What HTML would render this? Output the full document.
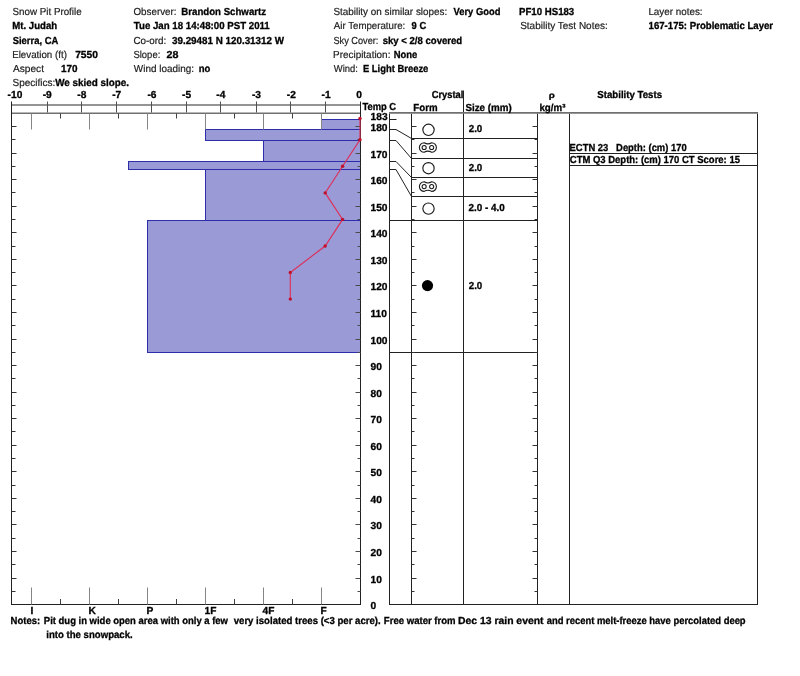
<!DOCTYPE html>
<html><head><meta charset="utf-8"><style>
html,body{margin:0;padding:0;background:#fff;width:800px;height:676px;overflow:hidden}
svg{display:block;will-change:transform}
text{font-family:"Liberation Sans",sans-serif;font-size:10.2px;text-rendering:geometricPrecision}
.b{font-weight:bold;fill:#000;stroke:#000;stroke-width:0.3px}
.r{font-weight:normal;stroke:#222;stroke-width:0.2px}
</style></head><body>
<svg width="800" height="676" viewBox="0 0 800 676" shape-rendering="auto">
<rect width="800" height="676" fill="#fff"/>
<text class="r" x="12.56" y="14.6" textLength="69.08" lengthAdjust="spacingAndGlyphs" fill="#222" xml:space="preserve">Snow Pit Profile</text>
<text class="b" x="12.36" y="29" textLength="44.74" lengthAdjust="spacingAndGlyphs" xml:space="preserve">Mt. Judah</text>
<text class="b" x="12.73" y="43.5" textLength="45.52" lengthAdjust="spacingAndGlyphs" xml:space="preserve">Sierra, CA</text>
<text class="r" x="12.20" y="57.9" textLength="54.70" lengthAdjust="spacingAndGlyphs" fill="#222" xml:space="preserve">Elevation (ft)</text>
<text class="b" x="75.16" y="57.9" textLength="22.76" lengthAdjust="spacingAndGlyphs" xml:space="preserve">7550</text>
<text class="r" x="12.98" y="72.2" textLength="30.99" lengthAdjust="spacingAndGlyphs" fill="#222" xml:space="preserve">Aspect</text>
<text class="b" x="61.08" y="72.2" textLength="16.53" lengthAdjust="spacingAndGlyphs" xml:space="preserve">170</text>
<text class="r" x="12.55" y="86.3" textLength="42.77" lengthAdjust="spacingAndGlyphs" fill="#222" xml:space="preserve">Specifics:</text>
<text class="b" x="55.19" y="86.3" textLength="73.89" lengthAdjust="spacingAndGlyphs" xml:space="preserve">We skied slope.</text>
<text class="r" x="133.44" y="14.6" textLength="43.06" lengthAdjust="spacingAndGlyphs" fill="#222" xml:space="preserve">Observer:</text>
<text class="b" x="181.35" y="14.6" textLength="84.69" lengthAdjust="spacingAndGlyphs" xml:space="preserve">Brandon Schwartz</text>
<text class="b" x="133.79" y="29" textLength="135.97" lengthAdjust="spacingAndGlyphs" xml:space="preserve">Tue Jan 18 14:48:00 PST 2011</text>
<text class="r" x="133.40" y="43.5" textLength="32.90" lengthAdjust="spacingAndGlyphs" fill="#222" xml:space="preserve">Co-ord:</text>
<text class="b" x="171.97" y="43.5" textLength="112.04" lengthAdjust="spacingAndGlyphs" xml:space="preserve">39.29481 N 120.31312 W</text>
<text class="r" x="133.47" y="57.9" textLength="26.79" lengthAdjust="spacingAndGlyphs" fill="#222" xml:space="preserve">Slope:</text>
<text class="b" x="166.53" y="57.9" textLength="11.90" lengthAdjust="spacingAndGlyphs" xml:space="preserve">28</text>
<text class="r" x="133.86" y="72.2" textLength="60.05" lengthAdjust="spacingAndGlyphs" fill="#222" xml:space="preserve">Wind loading:</text>
<text class="b" x="198.77" y="72.2" textLength="11.60" lengthAdjust="spacingAndGlyphs" xml:space="preserve">no</text>
<text class="r" x="333.40" y="14.6" textLength="113.90" lengthAdjust="spacingAndGlyphs" fill="#222" xml:space="preserve">Stability on similar slopes:</text>
<text class="b" x="453.54" y="14.6" textLength="46.82" lengthAdjust="spacingAndGlyphs" xml:space="preserve">Very Good</text>
<text class="r" x="333.83" y="29" textLength="71.44" lengthAdjust="spacingAndGlyphs" fill="#222" xml:space="preserve">Air Temperature:</text>
<text class="b" x="411.58" y="29" textLength="14.58" lengthAdjust="spacingAndGlyphs" xml:space="preserve">9 C</text>
<text class="r" x="333.43" y="43.5" textLength="45.01" lengthAdjust="spacingAndGlyphs" fill="#222" xml:space="preserve">Sky Cover:</text>
<text class="b" x="382.66" y="43.5" textLength="79.57" lengthAdjust="spacingAndGlyphs" xml:space="preserve">sky &lt; 2/8 covered</text>
<text class="r" x="333.04" y="57.9" textLength="57.37" lengthAdjust="spacingAndGlyphs" fill="#222" xml:space="preserve">Precipitation:</text>
<text class="b" x="393.77" y="57.9" textLength="23.55" lengthAdjust="spacingAndGlyphs" xml:space="preserve">None</text>
<text class="r" x="333.81" y="72.2" textLength="24.15" lengthAdjust="spacingAndGlyphs" fill="#222" xml:space="preserve">Wind:</text>
<text class="b" x="362.97" y="72.2" textLength="65.35" lengthAdjust="spacingAndGlyphs" xml:space="preserve">E Light Breeze</text>
<text class="b" x="519.06" y="14.6" textLength="55.19" lengthAdjust="spacingAndGlyphs" xml:space="preserve">PF10 HS183</text>
<text class="r" x="520.15" y="29" textLength="87.65" lengthAdjust="spacingAndGlyphs" fill="#222" xml:space="preserve">Stability Test Notes:</text>
<text class="r" x="648.39" y="14.6" textLength="54.21" lengthAdjust="spacingAndGlyphs" fill="#222" xml:space="preserve">Layer notes:</text>
<text class="b" x="648.59" y="29" textLength="124.55" lengthAdjust="spacingAndGlyphs" xml:space="preserve">167-175: Problematic Layer</text>
<text class="b" x="7.64" y="98" textLength="14.74" lengthAdjust="spacingAndGlyphs" xml:space="preserve">-10</text>
<text class="b" x="42.66" y="98" textLength="9.07" lengthAdjust="spacingAndGlyphs" xml:space="preserve">-9</text>
<text class="b" x="77.32" y="98" textLength="9.07" lengthAdjust="spacingAndGlyphs" xml:space="preserve">-8</text>
<text class="b" x="112.19" y="98" textLength="9.07" lengthAdjust="spacingAndGlyphs" xml:space="preserve">-7</text>
<text class="b" x="147.45" y="98" textLength="9.07" lengthAdjust="spacingAndGlyphs" xml:space="preserve">-6</text>
<text class="b" x="182.11" y="98" textLength="9.07" lengthAdjust="spacingAndGlyphs" xml:space="preserve">-5</text>
<text class="b" x="216.29" y="98" textLength="9.07" lengthAdjust="spacingAndGlyphs" xml:space="preserve">-4</text>
<text class="b" x="251.95" y="98" textLength="9.07" lengthAdjust="spacingAndGlyphs" xml:space="preserve">-3</text>
<text class="b" x="286.87" y="98" textLength="9.07" lengthAdjust="spacingAndGlyphs" xml:space="preserve">-2</text>
<text class="b" x="321.51" y="98" textLength="9.07" lengthAdjust="spacingAndGlyphs" xml:space="preserve">-1</text>
<text class="b" x="356.27" y="98" textLength="5.67" lengthAdjust="spacingAndGlyphs" xml:space="preserve">0</text>
<line x1="11.5" y1="105" x2="360.5" y2="105" stroke="#707070" stroke-width="1.6"/>
<line x1="11.5" y1="113.2" x2="360.5" y2="113.2" stroke="#707070" stroke-width="1.6"/>
<line x1="47.5" y1="101.5" x2="47.5" y2="112.5" stroke="#505050" stroke-width="1"/>
<line x1="81.5" y1="101.5" x2="81.5" y2="112.5" stroke="#505050" stroke-width="1"/>
<line x1="116.5" y1="101.5" x2="116.5" y2="112.5" stroke="#505050" stroke-width="1"/>
<line x1="151.5" y1="101.5" x2="151.5" y2="112.5" stroke="#505050" stroke-width="1"/>
<line x1="186.5" y1="101.5" x2="186.5" y2="112.5" stroke="#505050" stroke-width="1"/>
<line x1="220.5" y1="101.5" x2="220.5" y2="112.5" stroke="#505050" stroke-width="1"/>
<line x1="256.5" y1="101.5" x2="256.5" y2="112.5" stroke="#505050" stroke-width="1"/>
<line x1="290.5" y1="101.5" x2="290.5" y2="112.5" stroke="#505050" stroke-width="1"/>
<line x1="325.5" y1="101.5" x2="325.5" y2="112.5" stroke="#505050" stroke-width="1"/>
<rect x="321.5" y="119.5" width="39.0" height="10.0" fill="#9a9ad6" stroke="#2e2eaa" stroke-width="1"/>
<rect x="205.5" y="129.5" width="155.0" height="11.0" fill="#9a9ad6" stroke="#2e2eaa" stroke-width="1"/>
<rect x="263.5" y="140.5" width="97.0" height="21.0" fill="#9a9ad6" stroke="#2e2eaa" stroke-width="1"/>
<rect x="128.5" y="161.5" width="232.0" height="8.0" fill="#9a9ad6" stroke="#2e2eaa" stroke-width="1"/>
<rect x="205.5" y="169.5" width="155.0" height="51.0" fill="#9a9ad6" stroke="#2e2eaa" stroke-width="1"/>
<rect x="147.5" y="220.5" width="213.0" height="132.0" fill="#9a9ad6" stroke="#2e2eaa" stroke-width="1"/>
<line x1="11.5" y1="101.5" x2="11.5" y2="605" stroke="#222" stroke-width="1"/>
<line x1="360.5" y1="101.5" x2="360.5" y2="605" stroke="#222" stroke-width="1"/>
<line x1="11.5" y1="604.5" x2="360.5" y2="604.5" stroke="#222" stroke-width="1"/>
<line x1="31.5" y1="113.5" x2="31.5" y2="129.5" stroke="#858585" stroke-width="1"/>
<line x1="31.5" y1="587.5" x2="31.5" y2="604.5" stroke="#858585" stroke-width="1"/>
<line x1="89.5" y1="113.5" x2="89.5" y2="129.5" stroke="#858585" stroke-width="1"/>
<line x1="89.5" y1="587.5" x2="89.5" y2="604.5" stroke="#858585" stroke-width="1"/>
<line x1="147.5" y1="113.5" x2="147.5" y2="129.5" stroke="#858585" stroke-width="1"/>
<line x1="147.5" y1="587.5" x2="147.5" y2="604.5" stroke="#858585" stroke-width="1"/>
<line x1="205.5" y1="113.5" x2="205.5" y2="129.5" stroke="#858585" stroke-width="1"/>
<line x1="205.5" y1="587.5" x2="205.5" y2="604.5" stroke="#858585" stroke-width="1"/>
<line x1="263.5" y1="113.5" x2="263.5" y2="129.5" stroke="#858585" stroke-width="1"/>
<line x1="263.5" y1="587.5" x2="263.5" y2="604.5" stroke="#858585" stroke-width="1"/>
<line x1="321.5" y1="113.5" x2="321.5" y2="129.5" stroke="#858585" stroke-width="1"/>
<line x1="321.5" y1="587.5" x2="321.5" y2="604.5" stroke="#858585" stroke-width="1"/>
<line x1="60.5" y1="113.5" x2="60.5" y2="118.5" stroke="#404040" stroke-width="1"/>
<line x1="60.5" y1="599" x2="60.5" y2="604.5" stroke="#404040" stroke-width="1"/>
<line x1="118.5" y1="113.5" x2="118.5" y2="118.5" stroke="#404040" stroke-width="1"/>
<line x1="118.5" y1="599" x2="118.5" y2="604.5" stroke="#404040" stroke-width="1"/>
<line x1="176.5" y1="113.5" x2="176.5" y2="118.5" stroke="#404040" stroke-width="1"/>
<line x1="176.5" y1="599" x2="176.5" y2="604.5" stroke="#404040" stroke-width="1"/>
<line x1="234.5" y1="113.5" x2="234.5" y2="118.5" stroke="#404040" stroke-width="1"/>
<line x1="234.5" y1="599" x2="234.5" y2="604.5" stroke="#404040" stroke-width="1"/>
<line x1="292.5" y1="113.5" x2="292.5" y2="118.5" stroke="#404040" stroke-width="1"/>
<line x1="292.5" y1="599" x2="292.5" y2="604.5" stroke="#404040" stroke-width="1"/>
<line x1="11.5" y1="591.5" x2="15.5" y2="591.5" stroke="#333" stroke-width="1"/>
<line x1="357.5" y1="591.5" x2="360.5" y2="591.5" stroke="#4a4a4a" stroke-width="1"/>
<line x1="11.5" y1="578.5" x2="16.5" y2="578.5" stroke="#333" stroke-width="1"/>
<line x1="355.5" y1="578.5" x2="360.5" y2="578.5" stroke="#4a4a4a" stroke-width="1"/>
<line x1="11.5" y1="564.5" x2="15.5" y2="564.5" stroke="#333" stroke-width="1"/>
<line x1="357.5" y1="564.5" x2="360.5" y2="564.5" stroke="#4a4a4a" stroke-width="1"/>
<line x1="11.5" y1="551.5" x2="16.5" y2="551.5" stroke="#333" stroke-width="1"/>
<line x1="355.5" y1="551.5" x2="360.5" y2="551.5" stroke="#4a4a4a" stroke-width="1"/>
<line x1="11.5" y1="538.5" x2="15.5" y2="538.5" stroke="#333" stroke-width="1"/>
<line x1="357.5" y1="538.5" x2="360.5" y2="538.5" stroke="#4a4a4a" stroke-width="1"/>
<line x1="11.5" y1="524.5" x2="16.5" y2="524.5" stroke="#333" stroke-width="1"/>
<line x1="355.5" y1="524.5" x2="360.5" y2="524.5" stroke="#4a4a4a" stroke-width="1"/>
<line x1="11.5" y1="511.5" x2="15.5" y2="511.5" stroke="#333" stroke-width="1"/>
<line x1="357.5" y1="511.5" x2="360.5" y2="511.5" stroke="#4a4a4a" stroke-width="1"/>
<line x1="11.5" y1="498.5" x2="16.5" y2="498.5" stroke="#333" stroke-width="1"/>
<line x1="355.5" y1="498.5" x2="360.5" y2="498.5" stroke="#4a4a4a" stroke-width="1"/>
<line x1="11.5" y1="485.5" x2="15.5" y2="485.5" stroke="#333" stroke-width="1"/>
<line x1="357.5" y1="485.5" x2="360.5" y2="485.5" stroke="#4a4a4a" stroke-width="1"/>
<line x1="11.5" y1="471.5" x2="16.5" y2="471.5" stroke="#333" stroke-width="1"/>
<line x1="355.5" y1="471.5" x2="360.5" y2="471.5" stroke="#4a4a4a" stroke-width="1"/>
<line x1="11.5" y1="458.5" x2="15.5" y2="458.5" stroke="#333" stroke-width="1"/>
<line x1="357.5" y1="458.5" x2="360.5" y2="458.5" stroke="#4a4a4a" stroke-width="1"/>
<line x1="11.5" y1="445.5" x2="16.5" y2="445.5" stroke="#333" stroke-width="1"/>
<line x1="355.5" y1="445.5" x2="360.5" y2="445.5" stroke="#4a4a4a" stroke-width="1"/>
<line x1="11.5" y1="431.5" x2="15.5" y2="431.5" stroke="#333" stroke-width="1"/>
<line x1="357.5" y1="431.5" x2="360.5" y2="431.5" stroke="#4a4a4a" stroke-width="1"/>
<line x1="11.5" y1="418.5" x2="16.5" y2="418.5" stroke="#333" stroke-width="1"/>
<line x1="355.5" y1="418.5" x2="360.5" y2="418.5" stroke="#4a4a4a" stroke-width="1"/>
<line x1="11.5" y1="405.5" x2="15.5" y2="405.5" stroke="#333" stroke-width="1"/>
<line x1="357.5" y1="405.5" x2="360.5" y2="405.5" stroke="#4a4a4a" stroke-width="1"/>
<line x1="11.5" y1="392.5" x2="16.5" y2="392.5" stroke="#333" stroke-width="1"/>
<line x1="355.5" y1="392.5" x2="360.5" y2="392.5" stroke="#4a4a4a" stroke-width="1"/>
<line x1="11.5" y1="378.5" x2="15.5" y2="378.5" stroke="#333" stroke-width="1"/>
<line x1="357.5" y1="378.5" x2="360.5" y2="378.5" stroke="#4a4a4a" stroke-width="1"/>
<line x1="11.5" y1="365.5" x2="16.5" y2="365.5" stroke="#333" stroke-width="1"/>
<line x1="355.5" y1="365.5" x2="360.5" y2="365.5" stroke="#4a4a4a" stroke-width="1"/>
<line x1="11.5" y1="352.5" x2="15.5" y2="352.5" stroke="#333" stroke-width="1"/>
<line x1="357.5" y1="352.5" x2="360.5" y2="352.5" stroke="#4a4a4a" stroke-width="1"/>
<line x1="11.5" y1="339.5" x2="16.5" y2="339.5" stroke="#333" stroke-width="1"/>
<line x1="355.5" y1="339.5" x2="360.5" y2="339.5" stroke="#4a4a4a" stroke-width="1"/>
<line x1="11.5" y1="325.5" x2="15.5" y2="325.5" stroke="#333" stroke-width="1"/>
<line x1="357.5" y1="325.5" x2="360.5" y2="325.5" stroke="#4a4a4a" stroke-width="1"/>
<line x1="11.5" y1="312.5" x2="16.5" y2="312.5" stroke="#333" stroke-width="1"/>
<line x1="355.5" y1="312.5" x2="360.5" y2="312.5" stroke="#4a4a4a" stroke-width="1"/>
<line x1="11.5" y1="299.5" x2="15.5" y2="299.5" stroke="#333" stroke-width="1"/>
<line x1="357.5" y1="299.5" x2="360.5" y2="299.5" stroke="#4a4a4a" stroke-width="1"/>
<line x1="11.5" y1="285.5" x2="16.5" y2="285.5" stroke="#333" stroke-width="1"/>
<line x1="355.5" y1="285.5" x2="360.5" y2="285.5" stroke="#4a4a4a" stroke-width="1"/>
<line x1="11.5" y1="272.5" x2="15.5" y2="272.5" stroke="#333" stroke-width="1"/>
<line x1="357.5" y1="272.5" x2="360.5" y2="272.5" stroke="#4a4a4a" stroke-width="1"/>
<line x1="11.5" y1="259.5" x2="16.5" y2="259.5" stroke="#333" stroke-width="1"/>
<line x1="355.5" y1="259.5" x2="360.5" y2="259.5" stroke="#4a4a4a" stroke-width="1"/>
<line x1="11.5" y1="246.5" x2="15.5" y2="246.5" stroke="#333" stroke-width="1"/>
<line x1="357.5" y1="246.5" x2="360.5" y2="246.5" stroke="#4a4a4a" stroke-width="1"/>
<line x1="11.5" y1="232.5" x2="16.5" y2="232.5" stroke="#333" stroke-width="1"/>
<line x1="355.5" y1="232.5" x2="360.5" y2="232.5" stroke="#4a4a4a" stroke-width="1"/>
<line x1="11.5" y1="219.5" x2="15.5" y2="219.5" stroke="#333" stroke-width="1"/>
<line x1="357.5" y1="219.5" x2="360.5" y2="219.5" stroke="#4a4a4a" stroke-width="1"/>
<line x1="11.5" y1="206.5" x2="16.5" y2="206.5" stroke="#333" stroke-width="1"/>
<line x1="355.5" y1="206.5" x2="360.5" y2="206.5" stroke="#4a4a4a" stroke-width="1"/>
<line x1="11.5" y1="192.5" x2="15.5" y2="192.5" stroke="#333" stroke-width="1"/>
<line x1="357.5" y1="192.5" x2="360.5" y2="192.5" stroke="#4a4a4a" stroke-width="1"/>
<line x1="11.5" y1="179.5" x2="16.5" y2="179.5" stroke="#333" stroke-width="1"/>
<line x1="355.5" y1="179.5" x2="360.5" y2="179.5" stroke="#4a4a4a" stroke-width="1"/>
<line x1="11.5" y1="166.5" x2="15.5" y2="166.5" stroke="#333" stroke-width="1"/>
<line x1="357.5" y1="166.5" x2="360.5" y2="166.5" stroke="#4a4a4a" stroke-width="1"/>
<line x1="11.5" y1="153.5" x2="16.5" y2="153.5" stroke="#333" stroke-width="1"/>
<line x1="355.5" y1="153.5" x2="360.5" y2="153.5" stroke="#4a4a4a" stroke-width="1"/>
<line x1="11.5" y1="139.5" x2="15.5" y2="139.5" stroke="#333" stroke-width="1"/>
<line x1="357.5" y1="139.5" x2="360.5" y2="139.5" stroke="#4a4a4a" stroke-width="1"/>
<line x1="11.5" y1="126.5" x2="16.5" y2="126.5" stroke="#333" stroke-width="1"/>
<line x1="355.5" y1="126.5" x2="360.5" y2="126.5" stroke="#4a4a4a" stroke-width="1"/>
<polyline points="360.0,118.5 360.0,139.8 342.6,166.3 325.2,192.9 342.6,219.4 325.2,246.0 290.3,272.5 290.3,299.1" fill="none" stroke="#dc3058" stroke-width="1.15"/>
<circle cx="360.0" cy="118.5" r="1.7" fill="#c0102c"/>
<circle cx="360.0" cy="139.8" r="1.7" fill="#c0102c"/>
<circle cx="342.6" cy="166.3" r="1.7" fill="#c0102c"/>
<circle cx="325.2" cy="192.9" r="1.7" fill="#c0102c"/>
<circle cx="342.6" cy="219.4" r="1.7" fill="#c0102c"/>
<circle cx="325.2" cy="246.0" r="1.7" fill="#c0102c"/>
<circle cx="290.3" cy="272.5" r="1.7" fill="#c0102c"/>
<circle cx="290.3" cy="299.1" r="1.7" fill="#c0102c"/>
<text class="b" x="370.6" y="120.3">183</text>
<text class="b" x="370.5" y="130.8">180</text>
<text class="b" x="370.5" y="157.8">170</text>
<text class="b" x="370.5" y="183.8">160</text>
<text class="b" x="370.5" y="210.8">150</text>
<text class="b" x="370.5" y="236.8">140</text>
<text class="b" x="370.5" y="263.8">130</text>
<text class="b" x="370.5" y="289.8">120</text>
<text class="b" x="370.5" y="316.8">110</text>
<text class="b" x="370.5" y="343.8">100</text>
<text class="b" x="370.5" y="369.8">90</text>
<text class="b" x="370.5" y="396.8">80</text>
<text class="b" x="370.5" y="422.8">70</text>
<text class="b" x="370.5" y="449.8">60</text>
<text class="b" x="370.5" y="475.8">50</text>
<text class="b" x="370.5" y="502.8">40</text>
<text class="b" x="370.5" y="528.8">30</text>
<text class="b" x="370.5" y="555.8">20</text>
<text class="b" x="370.5" y="582.8">10</text>
<text class="b" x="370.5" y="608.8">0</text>
<text class="b" x="362.40" y="109.8" textLength="33.76" lengthAdjust="spacingAndGlyphs" xml:space="preserve">Temp C</text>
<line x1="389.5" y1="113.5" x2="389.5" y2="605.0" stroke="#222" stroke-width="1"/>
<line x1="411.5" y1="113.5" x2="411.5" y2="605.0" stroke="#222" stroke-width="1"/>
<line x1="463.5" y1="113.5" x2="463.5" y2="605.0" stroke="#222" stroke-width="1"/>
<line x1="537.5" y1="113.5" x2="537.5" y2="605.0" stroke="#222" stroke-width="1"/>
<line x1="569.5" y1="113.5" x2="569.5" y2="605.0" stroke="#222" stroke-width="1"/>
<line x1="757.5" y1="113.5" x2="757.5" y2="605.0" stroke="#222" stroke-width="1"/>
<line x1="463.5" y1="90.5" x2="463.5" y2="113.5" stroke="#222" stroke-width="1"/>
<line x1="389" y1="112.9" x2="758" y2="112.9" stroke="#707070" stroke-width="1.6"/>
<line x1="389" y1="604.5" x2="758" y2="604.5" stroke="#222" stroke-width="1"/>
<text class="b" x="431.72" y="98.1" textLength="31.70" lengthAdjust="spacingAndGlyphs" xml:space="preserve">Crystal</text>
<text class="b" x="413.35" y="110.6" textLength="24.25" lengthAdjust="spacingAndGlyphs" xml:space="preserve">Form</text>
<text class="b" x="465.42" y="110.6" textLength="46.27" lengthAdjust="spacingAndGlyphs" xml:space="preserve">Size (mm)</text>
<text class="b" x="548.82" y="97.6" textLength="6.06" lengthAdjust="spacingAndGlyphs" style="font-size:8.5px" xml:space="preserve">ρ</text>
<text class="b" x="539.42" y="110.5" textLength="25.99" lengthAdjust="spacingAndGlyphs" xml:space="preserve">kg/m³</text>
<text class="b" x="597.33" y="98.1" textLength="64.67" lengthAdjust="spacingAndGlyphs" xml:space="preserve">Stability Tests</text>
<line x1="411.5" y1="138.5" x2="537.5" y2="138.5" stroke="#222" stroke-width="1"/>
<line x1="411.5" y1="158.5" x2="537.5" y2="158.5" stroke="#222" stroke-width="1"/>
<line x1="411.5" y1="177.5" x2="537.5" y2="177.5" stroke="#222" stroke-width="1"/>
<line x1="411.5" y1="196.5" x2="537.5" y2="196.5" stroke="#222" stroke-width="1"/>
<line x1="389.5" y1="220.5" x2="537.5" y2="220.5" stroke="#222" stroke-width="1"/>
<line x1="389.5" y1="352.5" x2="537.5" y2="352.5" stroke="#222" stroke-width="1"/>
<polyline points="389.5,129.5 396,129.5 411.5,138.5" fill="none" stroke="#222" stroke-width="1"/>
<polyline points="389.5,140.5 396,140.5 411.5,158.5" fill="none" stroke="#222" stroke-width="1"/>
<polyline points="389.5,161.5 396,161.5 411.5,177.5" fill="none" stroke="#222" stroke-width="1"/>
<polyline points="389.5,169.5 396,169.5 411.5,196.5" fill="none" stroke="#222" stroke-width="1"/>
<line x1="389.5" y1="119.5" x2="396.5" y2="119.5" stroke="#222" stroke-width="1"/>
<line x1="411.5" y1="591.5" x2="414.5" y2="591.5" stroke="#333" stroke-width="1"/>
<line x1="534.5" y1="591.5" x2="537.5" y2="591.5" stroke="#333" stroke-width="1"/>
<line x1="411.5" y1="578.5" x2="416.5" y2="578.5" stroke="#333" stroke-width="1"/>
<line x1="532.5" y1="578.5" x2="537.5" y2="578.5" stroke="#333" stroke-width="1"/>
<line x1="411.5" y1="564.5" x2="414.5" y2="564.5" stroke="#333" stroke-width="1"/>
<line x1="534.5" y1="564.5" x2="537.5" y2="564.5" stroke="#333" stroke-width="1"/>
<line x1="411.5" y1="551.5" x2="416.5" y2="551.5" stroke="#333" stroke-width="1"/>
<line x1="532.5" y1="551.5" x2="537.5" y2="551.5" stroke="#333" stroke-width="1"/>
<line x1="411.5" y1="538.5" x2="414.5" y2="538.5" stroke="#333" stroke-width="1"/>
<line x1="534.5" y1="538.5" x2="537.5" y2="538.5" stroke="#333" stroke-width="1"/>
<line x1="411.5" y1="524.5" x2="416.5" y2="524.5" stroke="#333" stroke-width="1"/>
<line x1="532.5" y1="524.5" x2="537.5" y2="524.5" stroke="#333" stroke-width="1"/>
<line x1="411.5" y1="511.5" x2="414.5" y2="511.5" stroke="#333" stroke-width="1"/>
<line x1="534.5" y1="511.5" x2="537.5" y2="511.5" stroke="#333" stroke-width="1"/>
<line x1="411.5" y1="498.5" x2="416.5" y2="498.5" stroke="#333" stroke-width="1"/>
<line x1="532.5" y1="498.5" x2="537.5" y2="498.5" stroke="#333" stroke-width="1"/>
<line x1="411.5" y1="485.5" x2="414.5" y2="485.5" stroke="#333" stroke-width="1"/>
<line x1="534.5" y1="485.5" x2="537.5" y2="485.5" stroke="#333" stroke-width="1"/>
<line x1="411.5" y1="471.5" x2="416.5" y2="471.5" stroke="#333" stroke-width="1"/>
<line x1="532.5" y1="471.5" x2="537.5" y2="471.5" stroke="#333" stroke-width="1"/>
<line x1="411.5" y1="458.5" x2="414.5" y2="458.5" stroke="#333" stroke-width="1"/>
<line x1="534.5" y1="458.5" x2="537.5" y2="458.5" stroke="#333" stroke-width="1"/>
<line x1="411.5" y1="445.5" x2="416.5" y2="445.5" stroke="#333" stroke-width="1"/>
<line x1="532.5" y1="445.5" x2="537.5" y2="445.5" stroke="#333" stroke-width="1"/>
<line x1="411.5" y1="431.5" x2="414.5" y2="431.5" stroke="#333" stroke-width="1"/>
<line x1="534.5" y1="431.5" x2="537.5" y2="431.5" stroke="#333" stroke-width="1"/>
<line x1="411.5" y1="418.5" x2="416.5" y2="418.5" stroke="#333" stroke-width="1"/>
<line x1="532.5" y1="418.5" x2="537.5" y2="418.5" stroke="#333" stroke-width="1"/>
<line x1="411.5" y1="405.5" x2="414.5" y2="405.5" stroke="#333" stroke-width="1"/>
<line x1="534.5" y1="405.5" x2="537.5" y2="405.5" stroke="#333" stroke-width="1"/>
<line x1="411.5" y1="392.5" x2="416.5" y2="392.5" stroke="#333" stroke-width="1"/>
<line x1="532.5" y1="392.5" x2="537.5" y2="392.5" stroke="#333" stroke-width="1"/>
<line x1="411.5" y1="378.5" x2="414.5" y2="378.5" stroke="#333" stroke-width="1"/>
<line x1="534.5" y1="378.5" x2="537.5" y2="378.5" stroke="#333" stroke-width="1"/>
<line x1="411.5" y1="365.5" x2="416.5" y2="365.5" stroke="#333" stroke-width="1"/>
<line x1="532.5" y1="365.5" x2="537.5" y2="365.5" stroke="#333" stroke-width="1"/>
<line x1="411.5" y1="352.5" x2="414.5" y2="352.5" stroke="#333" stroke-width="1"/>
<line x1="534.5" y1="352.5" x2="537.5" y2="352.5" stroke="#333" stroke-width="1"/>
<line x1="411.5" y1="339.5" x2="416.5" y2="339.5" stroke="#333" stroke-width="1"/>
<line x1="532.5" y1="339.5" x2="537.5" y2="339.5" stroke="#333" stroke-width="1"/>
<line x1="411.5" y1="325.5" x2="414.5" y2="325.5" stroke="#333" stroke-width="1"/>
<line x1="534.5" y1="325.5" x2="537.5" y2="325.5" stroke="#333" stroke-width="1"/>
<line x1="411.5" y1="312.5" x2="416.5" y2="312.5" stroke="#333" stroke-width="1"/>
<line x1="532.5" y1="312.5" x2="537.5" y2="312.5" stroke="#333" stroke-width="1"/>
<line x1="411.5" y1="299.5" x2="414.5" y2="299.5" stroke="#333" stroke-width="1"/>
<line x1="534.5" y1="299.5" x2="537.5" y2="299.5" stroke="#333" stroke-width="1"/>
<line x1="411.5" y1="285.5" x2="416.5" y2="285.5" stroke="#333" stroke-width="1"/>
<line x1="532.5" y1="285.5" x2="537.5" y2="285.5" stroke="#333" stroke-width="1"/>
<line x1="411.5" y1="272.5" x2="414.5" y2="272.5" stroke="#333" stroke-width="1"/>
<line x1="534.5" y1="272.5" x2="537.5" y2="272.5" stroke="#333" stroke-width="1"/>
<line x1="411.5" y1="259.5" x2="416.5" y2="259.5" stroke="#333" stroke-width="1"/>
<line x1="532.5" y1="259.5" x2="537.5" y2="259.5" stroke="#333" stroke-width="1"/>
<line x1="411.5" y1="246.5" x2="414.5" y2="246.5" stroke="#333" stroke-width="1"/>
<line x1="534.5" y1="246.5" x2="537.5" y2="246.5" stroke="#333" stroke-width="1"/>
<line x1="411.5" y1="232.5" x2="416.5" y2="232.5" stroke="#333" stroke-width="1"/>
<line x1="532.5" y1="232.5" x2="537.5" y2="232.5" stroke="#333" stroke-width="1"/>
<line x1="411.5" y1="219.5" x2="414.5" y2="219.5" stroke="#333" stroke-width="1"/>
<line x1="534.5" y1="219.5" x2="537.5" y2="219.5" stroke="#333" stroke-width="1"/>
<line x1="411.5" y1="206.5" x2="416.5" y2="206.5" stroke="#333" stroke-width="1"/>
<line x1="532.5" y1="206.5" x2="537.5" y2="206.5" stroke="#333" stroke-width="1"/>
<line x1="411.5" y1="192.5" x2="414.5" y2="192.5" stroke="#333" stroke-width="1"/>
<line x1="534.5" y1="192.5" x2="537.5" y2="192.5" stroke="#333" stroke-width="1"/>
<line x1="411.5" y1="179.5" x2="416.5" y2="179.5" stroke="#333" stroke-width="1"/>
<line x1="532.5" y1="179.5" x2="537.5" y2="179.5" stroke="#333" stroke-width="1"/>
<line x1="411.5" y1="166.5" x2="414.5" y2="166.5" stroke="#333" stroke-width="1"/>
<line x1="534.5" y1="166.5" x2="537.5" y2="166.5" stroke="#333" stroke-width="1"/>
<line x1="411.5" y1="153.5" x2="416.5" y2="153.5" stroke="#333" stroke-width="1"/>
<line x1="532.5" y1="153.5" x2="537.5" y2="153.5" stroke="#333" stroke-width="1"/>
<line x1="411.5" y1="139.5" x2="414.5" y2="139.5" stroke="#333" stroke-width="1"/>
<line x1="534.5" y1="139.5" x2="537.5" y2="139.5" stroke="#333" stroke-width="1"/>
<line x1="411.5" y1="126.5" x2="416.5" y2="126.5" stroke="#333" stroke-width="1"/>
<line x1="532.5" y1="126.5" x2="537.5" y2="126.5" stroke="#333" stroke-width="1"/>
<circle cx="428.5" cy="129.8" r="5.65" fill="none" stroke="#1a1a1a" stroke-width="1.15"/>
<path d="M424.20,142.70 Q427.90,145.10 431.60,142.70 A4.8,4.8 0 0 1 431.60,152.30 Q427.90,149.90 424.20,152.30 A4.8,4.8 0 0 1 424.20,142.70 Z" fill="none" stroke="#1a1a1a" stroke-width="1.1"/>
<circle cx="424.15" cy="147.5" r="2.05" fill="none" stroke="#1a1a1a" stroke-width="1.05"/>
<circle cx="431.65" cy="147.5" r="2.05" fill="none" stroke="#1a1a1a" stroke-width="1.05"/>
<circle cx="428.5" cy="168.2" r="5.65" fill="none" stroke="#1a1a1a" stroke-width="1.15"/>
<path d="M424.20,181.80 Q427.90,184.20 431.60,181.80 A4.8,4.8 0 0 1 431.60,191.40 Q427.90,189.00 424.20,191.40 A4.8,4.8 0 0 1 424.20,181.80 Z" fill="none" stroke="#1a1a1a" stroke-width="1.1"/>
<circle cx="424.15" cy="186.6" r="2.05" fill="none" stroke="#1a1a1a" stroke-width="1.05"/>
<circle cx="431.65" cy="186.6" r="2.05" fill="none" stroke="#1a1a1a" stroke-width="1.05"/>
<circle cx="428.5" cy="208.6" r="5.65" fill="none" stroke="#1a1a1a" stroke-width="1.15"/>
<circle cx="427.5" cy="285.6" r="5.6" fill="#000"/>
<text class="b" x="468.76" y="132.2" textLength="13.54" lengthAdjust="spacingAndGlyphs" xml:space="preserve">2.0</text>
<text class="b" x="468.76" y="170.7" textLength="13.54" lengthAdjust="spacingAndGlyphs" xml:space="preserve">2.0</text>
<text class="b" x="468.41" y="211" textLength="36.25" lengthAdjust="spacingAndGlyphs" xml:space="preserve">2.0 - 4.0</text>
<text class="b" x="468.76" y="288.8" textLength="13.54" lengthAdjust="spacingAndGlyphs" xml:space="preserve">2.0</text>
<line x1="569.5" y1="153.5" x2="757.5" y2="153.5" stroke="#222" stroke-width="1"/>
<line x1="569.5" y1="165.5" x2="757.5" y2="165.5" stroke="#222" stroke-width="1"/>
<text class="b" x="569.57" y="151.2" textLength="117.12" lengthAdjust="spacingAndGlyphs" xml:space="preserve">ECTN 23   Depth: (cm) 170</text>
<text class="b" x="569.81" y="162.9" textLength="170.15" lengthAdjust="spacingAndGlyphs" xml:space="preserve">CTM Q3 Depth: (cm) 170 CT Score: 15</text>
<text class="b" x="30.5" y="613.5">I</text>
<text class="b" x="88.5" y="613.5">K</text>
<text class="b" x="146.5" y="613.5">P</text>
<text class="b" x="204.5" y="613.5">1F</text>
<text class="b" x="262.5" y="613.5">4F</text>
<text class="b" x="320.5" y="613.5">F</text>
<text class="b" x="10.61" y="623.7" textLength="29.55" lengthAdjust="spacingAndGlyphs" xml:space="preserve">Notes:</text>
<text class="b" x="43.87" y="623.7" textLength="184.11" lengthAdjust="spacingAndGlyphs" xml:space="preserve">Pit dug in wide open area with only a few</text>
<text class="b" x="233.71" y="623.7" textLength="146.95" lengthAdjust="spacingAndGlyphs" xml:space="preserve">very isolated trees (&lt;3 per acre).</text>
<text class="b" x="383.86" y="623.7" textLength="71.73" lengthAdjust="spacingAndGlyphs" xml:space="preserve">Free water from</text>
<text class="b" x="458.05" y="623.7" textLength="85.47" lengthAdjust="spacingAndGlyphs" xml:space="preserve">Dec 13 rain event</text>
<text class="b" x="546.72" y="623.7" textLength="198.91" lengthAdjust="spacingAndGlyphs" xml:space="preserve">and recent melt-freeze have percolated deep</text>
<text class="b" x="46.33" y="637.7" textLength="86.33" lengthAdjust="spacingAndGlyphs" xml:space="preserve">into the snowpack.</text>
</svg>
</body></html>
